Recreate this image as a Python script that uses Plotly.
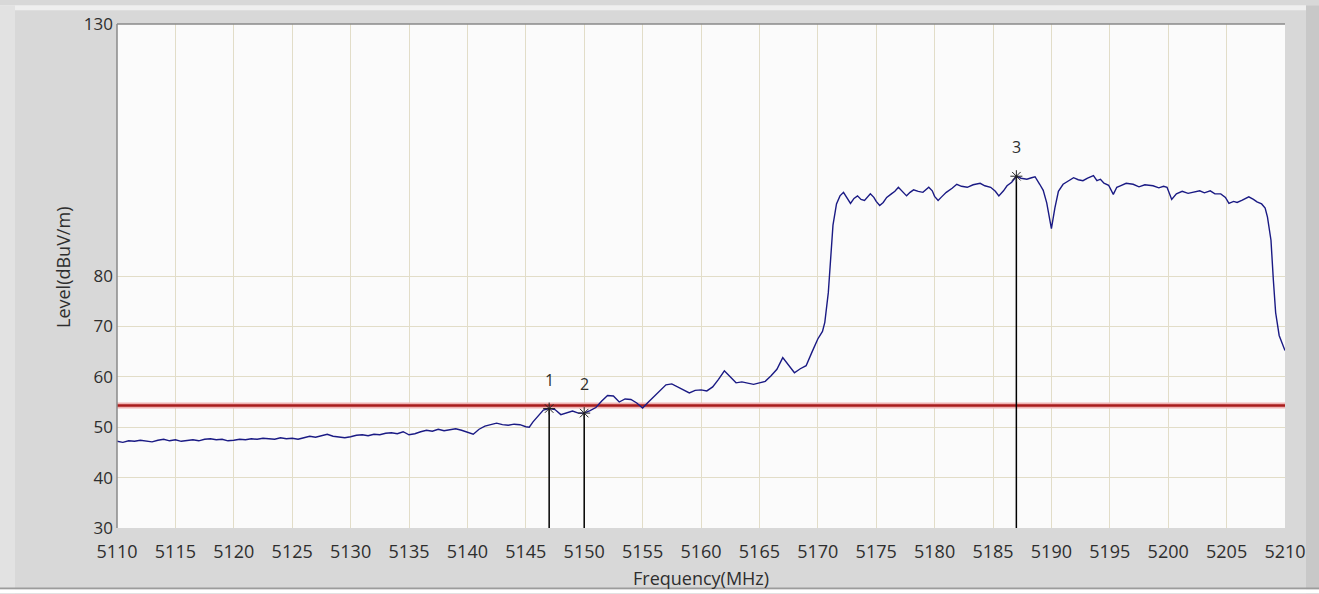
import plotly.graph_objects as go

# ---- data ----
freq = [
    5110.0, 5110.5, 5111.0, 5111.5, 5112.0, 5112.5, 5113.0, 5113.5, 5114.0, 5114.5,
    5115.0, 5115.5, 5116.0, 5116.5, 5117.0, 5117.5, 5118.0, 5118.5, 5119.0, 5119.5,
    5120.0, 5120.5, 5121.0, 5121.5, 5122.0, 5122.5, 5123.0, 5123.5, 5124.0, 5124.5,
    5125.0, 5125.5, 5126.0, 5126.5, 5127.0, 5127.5, 5128.0, 5128.5, 5129.0, 5129.5,
    5130.0, 5130.5, 5131.0, 5131.5, 5132.0, 5132.5, 5133.0, 5133.5, 5134.0, 5134.5,
    5135.0, 5135.5, 5136.0, 5136.5, 5137.0, 5137.5, 5138.0, 5138.5, 5139.0, 5139.5,
    5140.0, 5140.5, 5141.0, 5141.5, 5142.0, 5142.5, 5143.0, 5143.5, 5144.0, 5144.5,
    5145.0, 5145.3, 5145.6, 5146.0, 5146.5, 5147.0, 5147.5, 5148.0, 5148.5, 5149.0,
    5149.5, 5150.0, 5150.5, 5151.0, 5151.5, 5152.0, 5152.5, 5153.0, 5153.5, 5154.0,
    5154.5, 5155.0, 5155.5, 5156.0, 5156.5, 5157.0, 5157.5, 5158.0, 5158.5, 5159.0,
    5159.5, 5160.0, 5160.5, 5161.0, 5161.5, 5162.0, 5162.5, 5163.0, 5163.5, 5164.0,
    5164.5, 5165.0, 5165.5, 5166.0, 5166.5, 5167.0, 5167.5, 5168.0, 5168.5, 5169.0,
    5169.5, 5170.0, 5170.4, 5170.6, 5170.9, 5171.1, 5171.3, 5171.6, 5171.9, 5172.2,
    5172.5, 5172.8, 5173.1, 5173.4, 5173.7, 5174.0, 5174.5, 5174.8, 5175.0, 5175.3,
    5175.6, 5175.9, 5176.3, 5176.6, 5176.9, 5177.2, 5177.6, 5177.9, 5178.2, 5178.6,
    5179.0, 5179.5, 5179.8, 5180.0, 5180.3, 5180.6, 5181.0, 5181.5, 5181.9, 5182.3,
    5182.8, 5183.3, 5183.9, 5184.3, 5184.8, 5185.2, 5185.5, 5185.9, 5186.2, 5186.6,
    5187.0, 5187.4, 5187.9, 5188.3, 5188.6, 5189.0, 5189.3, 5189.6, 5189.8, 5190.0,
    5190.3, 5190.6, 5191.0, 5191.5, 5191.9, 5192.3, 5192.7, 5193.1, 5193.6, 5193.9,
    5194.2, 5194.5, 5194.9, 5195.3, 5195.6, 5195.9, 5196.4, 5197.0, 5197.5, 5198.0,
    5198.7, 5199.2, 5199.6, 5199.9, 5200.3, 5200.7, 5201.2, 5201.7, 5202.2, 5202.7,
    5203.1, 5203.6, 5204.0, 5204.5, 5204.9, 5205.2, 5205.6, 5205.9, 5206.3, 5206.6,
    5206.9, 5207.3, 5207.6, 5208.0, 5208.3, 5208.5, 5208.8, 5209.0, 5209.2, 5209.5,
    5209.8, 5210.0,
]
level = [
    47.2, 47.0, 47.3, 47.2, 47.4, 47.3, 47.1, 47.4, 47.6, 47.3,
    47.5, 47.2, 47.4, 47.5, 47.3, 47.6, 47.7, 47.5, 47.6, 47.3,
    47.4, 47.6, 47.5, 47.7, 47.6, 47.8, 47.7, 47.6, 47.9, 47.7,
    47.8, 47.6, 47.9, 48.2, 48.0, 48.3, 48.6, 48.2, 48.0, 47.9,
    48.1, 48.4, 48.5, 48.3, 48.6, 48.5, 48.8, 48.9, 48.7, 49.1,
    48.5, 48.7, 49.1, 49.4, 49.2, 49.6, 49.3, 49.5, 49.7, 49.4,
    49.0, 48.6, 49.6, 50.2, 50.5, 50.8, 50.5, 50.4, 50.6, 50.5,
    50.1, 50.0, 51.0, 52.0, 53.4, 53.7, 53.5, 52.5, 52.9, 53.2,
    52.8, 52.8, 53.3, 53.9, 55.2, 56.3, 56.2, 55.0, 55.6, 55.5,
    54.8, 53.8, 55.0, 56.2, 57.3, 58.4, 58.6, 58.0, 57.5, 56.8,
    57.3, 57.4, 57.2, 58.0, 59.5, 61.2, 60.0, 58.8, 59.0, 58.7,
    58.5, 58.8, 59.1, 60.2, 61.5, 63.8, 62.3, 60.8, 61.6, 62.2,
    64.9, 67.5, 69.0, 70.8, 76.7, 84.5, 90.1, 94.3, 95.9, 96.6,
    95.5, 94.4, 95.4, 95.9, 95.2, 95.0, 96.3, 95.6, 94.8, 94.0,
    94.6, 95.6, 96.3, 96.8, 97.6, 96.9, 95.9, 96.6, 97.1, 96.8,
    96.6, 97.6, 96.9, 95.8, 95.0, 95.7, 96.6, 97.4, 98.2, 97.8,
    97.6, 98.1, 98.4, 97.9, 97.6, 96.8, 95.9, 96.9, 97.9, 98.6,
    99.8, 99.4, 99.2, 99.5, 99.7, 98.2, 97.0, 94.5, 91.5, 89.4,
    93.5, 96.8, 98.2, 99.0, 99.5, 99.1, 98.9, 99.4, 99.9, 98.9,
    99.2, 98.4, 98.0, 96.2, 97.6, 97.9, 98.4, 98.2, 97.7, 98.1,
    97.9, 97.5, 97.8, 97.6, 95.2, 96.3, 96.8, 96.4, 96.6, 96.9,
    96.5, 96.9, 96.3, 96.3, 95.6, 94.4, 94.8, 94.6, 95.0, 95.3,
    95.7, 95.2, 94.7, 94.3, 93.5, 91.7, 87.1, 79.3, 72.7, 68.2,
    66.2, 65.2,
]

limit_level = 54.3
marker_labels = ["1", "2", "3"]
marker_freq = [5147.0, 5150.0, 5187.0]
marker_level = [53.7, 52.8, 99.8]

x_ticks = list(range(5110, 5211, 5))
y_ticks = [30, 40, 50, 60, 70, 80, 130]

x_range = [5110, 5210]
y_range = [30, 130]

FONT = "Open Sans, Noto Sans, DejaVu Sans, sans-serif"
TXT = "#2e2e2e"

W, H = 1319, 594
ML, MR, MT, MB = 117, 34, 19, 66
PW, PH = W - ML - MR, H - MT - MB


def px(xp):
    return (xp - ML) / PW


def py(yp):
    return (H - MB - yp) / PH


fig = go.Figure()

# limit line (soft glow + core)
fig.add_trace(go.Scatter(
    x=x_range, y=[limit_level, limit_level], mode="lines",
    line=dict(color="#f0b4b4", width=6), hoverinfo="skip", showlegend=False,
))
fig.add_trace(go.Scatter(
    x=x_range, y=[limit_level, limit_level], mode="lines",
    line=dict(color="#a81c1c", width=2.6), hoverinfo="skip", showlegend=False,
))

# spectrum trace
fig.add_trace(go.Scatter(
    x=freq, y=level, mode="lines",
    line=dict(color="#1a1a84", width=1.4), showlegend=False,
))

# marker vertical lines
for f, l in zip(marker_freq, marker_level):
    fig.add_trace(go.Scatter(
        x=[f, f], y=[y_range[0], l], mode="lines",
        line=dict(color="#000000", width=1.5), showlegend=False, hoverinfo="skip",
    ))

# marker stars
fig.add_trace(go.Scatter(
    x=marker_freq, y=marker_level, mode="markers",
    marker=dict(symbol="asterisk-open", size=10, color="#222222",
                line=dict(color="#222222", width=1)),
    showlegend=False,
))

# marker labels
for lab, f, l in zip(marker_labels, marker_freq, marker_level):
    fig.add_annotation(
        x=f, y=l, text=lab, showarrow=False, yshift=29,
        xanchor="center", yanchor="middle",
        font=dict(family=FONT, size=16, color=TXT),
    )

# axis titles as annotations
fig.add_annotation(
    xref="paper", yref="paper", x=0, y=0.5, xshift=-54, yshift=8,
    xanchor="center", yanchor="middle",
    text="Level(dBuV/m)", textangle=-90, showarrow=False,
    font=dict(family=FONT, size=18, color=TXT),
)
fig.add_annotation(
    xref="paper", yref="paper", x=0.5, y=0, yshift=-50,
    xanchor="center", yanchor="middle",
    text="Frequency(MHz)", showarrow=False,
    font=dict(family=FONT, size=18, color=TXT),
)

# window frame details
frame = [
    (0, 0, W, 5, "#efefef"),          # top light strip
    (0, 0, 15, H, "#e2e2e2"),          # left light strip
    (W - 13, 0, W, H, "#c8c8c8"),      # right darker strip
    (0, H - 6, W, H - 4, "#9c9c9c"),   # bottom dark line
    (0, H - 4, W, H, "#ffffff"),       # bottom white
]
for x0, y0, x1, y1, c in frame:
    fig.add_shape(type="rect", xref="paper", yref="paper",
                  x0=px(x0), x1=px(x1), y0=py(y1), y1=py(y0),
                  fillcolor=c, line=dict(width=0), layer="below")

# plot frame lines (left & top)
fig.add_shape(type="line", xref="paper", yref="paper", x0=0, x1=0, y0=0, y1=1,
              line=dict(color="#8a8a8a", width=1.5))
fig.add_shape(type="line", xref="paper", yref="paper", x0=0, x1=1, y0=1, y1=1,
              line=dict(color="#8a8a8a", width=1.5))

fig.update_xaxes(
    range=x_range, tickvals=x_ticks, ticktext=[str(t) for t in x_ticks],
    showgrid=True, gridcolor="#e2ddc8", gridwidth=1, zeroline=False,
    showline=False, ticks="", ticklabelstandoff=11,
    tickfont=dict(family=FONT, size=18, color=TXT),
)
fig.update_yaxes(
    range=y_range, tickvals=y_ticks, ticktext=[str(t) for t in y_ticks],
    showgrid=True, gridcolor="#e2ddc8", gridwidth=1, zeroline=False,
    showline=False, ticks="", ticklabelstandoff=3,
    tickfont=dict(family=FONT, size=17, color=TXT),
)

fig.update_layout(
    width=W, height=H,
    margin=dict(l=ML, r=MR, t=MT, b=MB),
    paper_bgcolor="#d8d8d8", plot_bgcolor="#fbfbfb",
    showlegend=False,
)

fig.write_html("out.html", config={"displayModeBar": False},
               post_script="document.body.style.margin='0';")
